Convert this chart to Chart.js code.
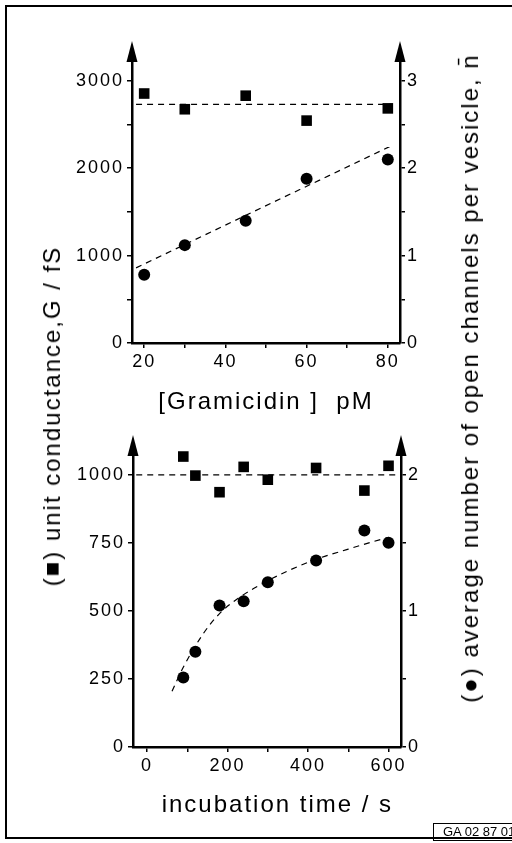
<!DOCTYPE html>
<html>
<head>
<meta charset="utf-8">
<script src="https://cdn.jsdelivr.net/npm/chart.js@4"></script>
<style>
  html, body { margin: 0; padding: 0; background: #fff; }
  body { width: 512px; height: 843px; position: relative; overflow: hidden;
         font-family: 'Liberation Sans', Arial, sans-serif; color: #000; }
  #frame { position: absolute; left: 5px; top: 5px; width: 540px; height: 830px;
           border-left: 2px solid #000; border-top: 2px solid #000; border-bottom: 2px solid #000; }
  canvas { position: absolute; left: 0; }
  #top { top: 0; }
  #bottom { top: 421px; }
  .side { position: absolute; white-space: nowrap; font-size: 24px; letter-spacing: 2px;
          transform: translate(-50%, -50%) rotate(-90deg); }
  #gaBox { position: absolute; left: 433px; top: 823px; width: 90px; height: 16px;
           border: 1.5px solid #000; font-size: 13px; line-height: 16px; padding-left: 9px; }
</style>
</head>
<body>
<div id="frame"></div>
<canvas id="top" width="512" height="421"></canvas>
<canvas id="bottom" width="512" height="403"></canvas>
<div class="side" style="left:52px; top:416px;">(■) unit conductance,G / fS</div>
<div class="side" style="left:470px; top:378px;">(●) average number of open channels per vesicle, n̄</div>
<div id="gaBox">GA 02 87 01</div>
<script>
// top panel: gramicidin concentration
const gramicidinPM = [20, 30, 45, 60, 80];
const gramicidinG = [2855, 2675, 2830, 2545, 2685];
const gramicidinN = [0.78, 1.12, 1.40, 1.88, 2.10];
const gramicidinGFitX = [18, 81];
const gramicidinGFit = [2730, 2730];
const gramicidinNFitX = [18, 81];
const gramicidinNFit = [0.86, 2.26];

// bottom panel: incubation time
const incubationS = [90, 120, 180, 240, 300, 420, 540, 600];
const incubationG = [1067, 997, 936, 1029, 982, 1025, 942, 1033];
const incubationN = [0.51, 0.70, 1.04, 1.07, 1.21, 1.37, 1.59, 1.50];
const incubationGFitX = [-27, 630];
const incubationGFit = [1000, 1000];
const incubationNFitX = [62, 89, 139, 180, 230, 280, 347, 421, 496, 563, 600];
const incubationNFit = [0.41, 0.58, 0.83, 0.98, 1.10, 1.19, 1.29, 1.38, 1.45, 1.51, 1.54];

// tick positions and labels
const topXTicks = [20, 30, 40, 50, 60, 70, 80];
const topXLabels = ['20', '', '40', '', '60', '', '80'];
const topGTicks = [0, 500, 1000, 1500, 2000, 2500, 3000];
const topGLabels = ['0', '', '1000', '', '2000', '', '3000'];
const topNTicks = [0, 0.5, 1, 1.5, 2, 2.5, 3];
const topNLabels = ['0', '', '1', '', '2', '', '3'];
const botXTicks = [0, 100, 200, 300, 400, 500, 600];
const botXLabels = ['0', '', '200', '', '400', '', '600'];
const botGTicks = [0, 250, 500, 750, 1000];
const botGLabels = ['0', '250', '500', '750', '1000'];
const botNTicks = [0, 0.5, 1, 1.5, 2];
const botNLabels = ['0', '', '1', '', '2'];

const FONT = "'Liberation Sans', Arial, sans-serif";
const pts = (xs, ys) => xs.map((x, i) => ({ x: x, y: ys[i] }));

const spacingPlugin = {
  id: 'spacing',
  beforeUpdate(chart) { chart.ctx.letterSpacing = '2px'; },
  beforeDraw(chart) { chart.ctx.letterSpacing = '2px'; },
};

// arrow heads on top of both y axes
const arrowPlugin = {
  id: 'arrows',
  afterDraw(chart) {
    const { ctx, chartArea: a } = chart;
    ctx.save();
    ctx.fillStyle = '#000';
    [a.left, a.right].forEach(x => {
      ctx.beginPath();
      ctx.moveTo(x, a.top - 18);
      ctx.lineTo(x - 5.5, a.top + 3);
      ctx.lineTo(x + 5.5, a.top + 3);
      ctx.closePath();
      ctx.fill();
    });
    ctx.restore();
  },
};

function axis(opts) {
  const s = {
    type: 'linear',
    position: opts.position,
    min: opts.min,
    max: opts.max,
    border: { display: true, color: '#000', width: 2.5 },
    grid: { display: true, drawOnChartArea: false, drawTicks: true, tickLength: 5, color: '#000', lineWidth: 1.5 },
    ticks: {
      color: '#000',
      font: { family: FONT, size: 18 },
      padding: opts.padding,
      maxRotation: 0,
      autoSkip: false,
      callback: (v, i) => opts.labels[i],
    },
    afterBuildTicks: sc => { sc.ticks = opts.ticks.map(v => ({ value: v })); },
    afterFit: sc => {
      if (opts.width) sc.width = opts.width;
      if (opts.height) sc.height = opts.height;
    },
  };
  if (opts.title) {
    s.title = { display: true, text: opts.title, color: '#000',
                font: { family: FONT, size: 24 }, padding: { top: 0, bottom: 4 } };
  }
  return s;
}

function panel(id, p) {
  new Chart(document.getElementById(id), {
    type: 'scatter',
    data: {
      datasets: [
        { data: pts(p.x, p.g), yAxisID: 'y', pointStyle: 'rect', radius: 7.5,
          backgroundColor: '#000', borderWidth: 0, clip: false },
        { data: pts(p.x, p.n), yAxisID: 'y1', pointStyle: 'circle', radius: 6,
          backgroundColor: '#000', borderWidth: 0, clip: false },
        { data: pts(p.gFitX, p.gFit), yAxisID: 'y', showLine: true, pointRadius: 0,
          borderColor: '#000', borderWidth: 1.2, borderDash: [6, 5] },
        { data: pts(p.nFitX, p.nFit), yAxisID: 'y1', showLine: true, pointRadius: 0,
          borderColor: '#000', borderWidth: 1.2, borderDash: [6, 5],
          cubicInterpolationMode: 'monotone' },
      ],
    },
    options: {
      responsive: false,
      animation: false,
      events: [],
      layout: { padding: { top: p.top, left: 0, right: 0, bottom: 0 } },
      plugins: { legend: { display: false }, tooltip: { enabled: false } },
      scales: {
        x: axis({ position: 'bottom', min: p.xMin, max: p.xMax, ticks: p.xTicks, labels: p.xLabels,
                  padding: 3, height: p.xHeight, title: p.xTitle }),
        y: axis({ position: 'left', min: 0, max: p.gMax, ticks: p.gTicks, labels: p.gLabels,
                  padding: 3, width: p.left }),
        y1: axis({ position: 'right', min: 0, max: p.nMax, ticks: p.nTicks, labels: p.nLabels,
                   padding: 2, width: 512 - p.right }),
      },
    },
    plugins: [spacingPlugin, arrowPlugin],
  });
}

panel('top', {
  x: gramicidinPM, g: gramicidinG, n: gramicidinN,
  gFitX: gramicidinGFitX, gFit: gramicidinGFit, nFitX: gramicidinNFitX, nFit: gramicidinNFit,
  xMin: 17, xMax: 83, xTicks: topXTicks, xLabels: topXLabels, xTitle: '[Gramicidin ]  pM',
  gMax: 3250, gTicks: topGTicks, gLabels: topGLabels,
  nMax: 3.25, nTicks: topNTicks, nLabels: topNLabels,
  top: 59, left: 132, right: 400, xHeight: 78,
});

panel('bottom', {
  x: incubationS, g: incubationG, n: incubationN,
  gFitX: incubationGFitX, gFit: incubationGFit, nFitX: incubationNFitX, nFit: incubationNFit,
  xMin: -35, xMax: 631, xTicks: botXTicks, xLabels: botXLabels, xTitle: '\u2002\u2009incubation time / s',
  gMax: 1080, gTicks: botGTicks, gLabels: botGLabels,
  nMax: 2.16, nTicks: botNTicks, nLabels: botNLabels,
  top: 32, left: 133, right: 401, xHeight: 77,
});
</script>
</body>
</html>
